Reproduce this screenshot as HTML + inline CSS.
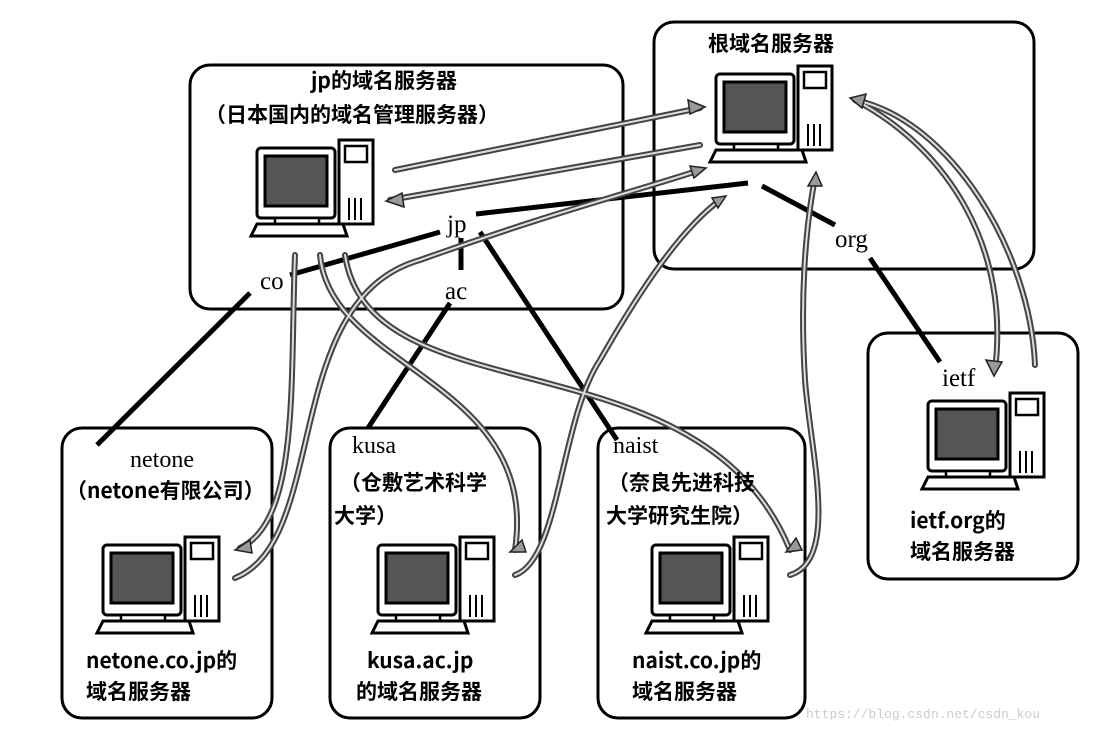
<!DOCTYPE html>
<html><head><meta charset="utf-8"><style>
body{margin:0;background:#fff;}
svg text{font-family:"Liberation Serif","Noto Serif CJK SC","Noto Sans CJK SC",serif;fill:#000;}
.cn{font-family:"Noto Sans CJK SC","WenQuanYi Zen Hei",sans-serif !important;font-weight:700;}
</style></head><body>
<svg width="1116" height="733" viewBox="0 0 1116 733" xmlns="http://www.w3.org/2000/svg">
<defs>
<g id="pc">
 <rect x="0" y="8" width="78" height="70" rx="4" fill="#fff" stroke="#000" stroke-width="3"/>
 <rect x="8" y="16" width="62" height="50" fill="#555" stroke="#000" stroke-width="3"/>
 <rect x="82" y="0" width="34" height="84" fill="#fff" stroke="#000" stroke-width="3"/>
 <rect x="88" y="6" width="22" height="16" fill="#fff" stroke="#000" stroke-width="2.5"/>
 <line x1="92" y1="58" x2="92" y2="80" stroke="#000" stroke-width="2"/>
 <line x1="98" y1="58" x2="98" y2="80" stroke="#000" stroke-width="2"/>
 <line x1="104" y1="58" x2="104" y2="80" stroke="#000" stroke-width="2"/>
 <rect x="18" y="78" width="44" height="6" fill="#fff" stroke="#000" stroke-width="2.5"/>
 <polygon points="0,84 86,84 90,96 -6,96" fill="#fff" stroke="#000" stroke-width="3"/>
</g>
</defs>

<g fill="none" stroke="#000" stroke-width="3">
<rect x="190" y="65" width="433" height="244" rx="20"/>
<rect x="654" y="22" width="380" height="247" rx="20"/>
<rect x="868" y="333" width="210" height="246" rx="20"/>
<rect x="62" y="428" width="210" height="290" rx="20"/>
<rect x="330" y="428" width="210" height="290" rx="20"/>
<rect x="598" y="428" width="207" height="290" rx="20"/>
</g>

<use href="#pc" x="257" y="140"/>
<use href="#pc" x="716" y="66"/>
<use href="#pc" x="928" y="393"/>
<use href="#pc" x="103" y="537"/>
<use href="#pc" x="378" y="537"/>
<use href="#pc" x="652" y="537"/>

<g stroke="#000" stroke-width="5" fill="none">
<line x1="250" y1="293" x2="97" y2="445"/>
<line x1="290" y1="275" x2="440" y2="232"/>
<line x1="476" y1="214" x2="748" y2="183"/>
<line x1="461" y1="238" x2="461" y2="270"/>
<line x1="450" y1="303" x2="368" y2="428"/>
<line x1="480" y1="232" x2="617" y2="440"/>
<line x1="762" y1="186" x2="835" y2="225"/>
<line x1="870" y1="258" x2="940" y2="362"/>
</g>

<g fill="none" stroke-linecap="round">
<g stroke="#444" stroke-width="6">
<path id="a1" d="M395,170 L700,108"/>
<path id="a2" d="M700,145 L390,200"/>
<path id="a3" d="M295,255 C290,380 300,520 240,548"/>
<path id="a4" d="M235,578 C330,540 280,300 420,260 C560,210 640,190 700,170"/>
<path id="a5" d="M320,255 C330,370 540,380 515,550"/>
<path id="a6" d="M515,575 C560,560 560,420 600,360 C640,290 680,230 720,200"/>
<path id="a7" d="M345,255 C370,420 700,330 790,550"/>
<path id="a8" d="M790,575 C840,560 810,450 805,380 C800,300 805,230 815,178"/>
<path id="a9" d="M855,100 C950,150 1010,250 995,370"/>
<path id="a10" d="M1035,365 C1030,250 950,120 855,100"/>
</g>
<g stroke="#ddd" stroke-width="2">
<use href="#a1"/><use href="#a2"/><use href="#a3"/><use href="#a4"/><use href="#a5"/>
<use href="#a6"/><use href="#a7"/><use href="#a8"/><use href="#a9"/><use href="#a10"/>
</g>
</g>
<g fill="#999" stroke="#222" stroke-width="1.5">
<polygon points="705,107 688,100 690,114"/>
<polygon points="386,201 402,193 404,207"/>
<polygon points="235,550 250,540 252,553"/>
<polygon points="706,168 690,166 694,178"/>
<polygon points="510,552 522,540 526,552"/>
<polygon points="726,196 712,198 718,208"/>
<polygon points="786,552 796,538 802,550"/>
<polygon points="816,172 808,186 822,186"/>
<polygon points="850,98 866,94 862,108"/>
<polygon points="994,376 986,360 1002,362"/>
</g>

<g font-size="25">
<text x="260" y="289">co</text>
<text x="447" y="232">jp</text>
<text x="445" y="299">ac</text>
<text x="835" y="247">org</text>
<text x="942" y="386">ietf</text>
</g>
<g font-size="24">
<text x="130" y="467">netone</text>
<text x="352" y="453">kusa</text>
<text x="613" y="453">naist</text>
</g>
<g font-size="21">
<text x="311" y="88" class="cn">jp的域名服务器</text>
<text x="205" y="122" class="cn">（日本国内的域名管理服务器）</text>
<text x="708" y="51" class="cn">根域名服务器</text>
<text x="66" y="498" class="cn">（netone有限公司）</text>
<text x="340" y="490" class="cn">（仓敷艺术科学</text>
<text x="334" y="523" class="cn">大学）</text>
<text x="608" y="490" class="cn">（奈良先进科技</text>
<text x="606" y="523" class="cn">大学研究生院）</text>
<text x="86" y="668" class="cn">netone.co.jp的</text>
<text x="86" y="699" class="cn">域名服务器</text>
<text x="367" y="668" class="cn">kusa.ac.jp</text>
<text x="356" y="699" class="cn">的域名服务器</text>
<text x="632" y="668" class="cn">naist.co.jp的</text>
<text x="632" y="699" class="cn">域名服务器</text>
<text x="910" y="528" class="cn">ietf.org的</text>
<text x="910" y="559" class="cn">域名服务器</text>
</g>
<text x="806" y="718" font-size="13" style="font-family:'Liberation Mono',monospace;fill:#ccc">https://blog.csdn.net/csdn_kou</text>
</svg>
</body></html>
